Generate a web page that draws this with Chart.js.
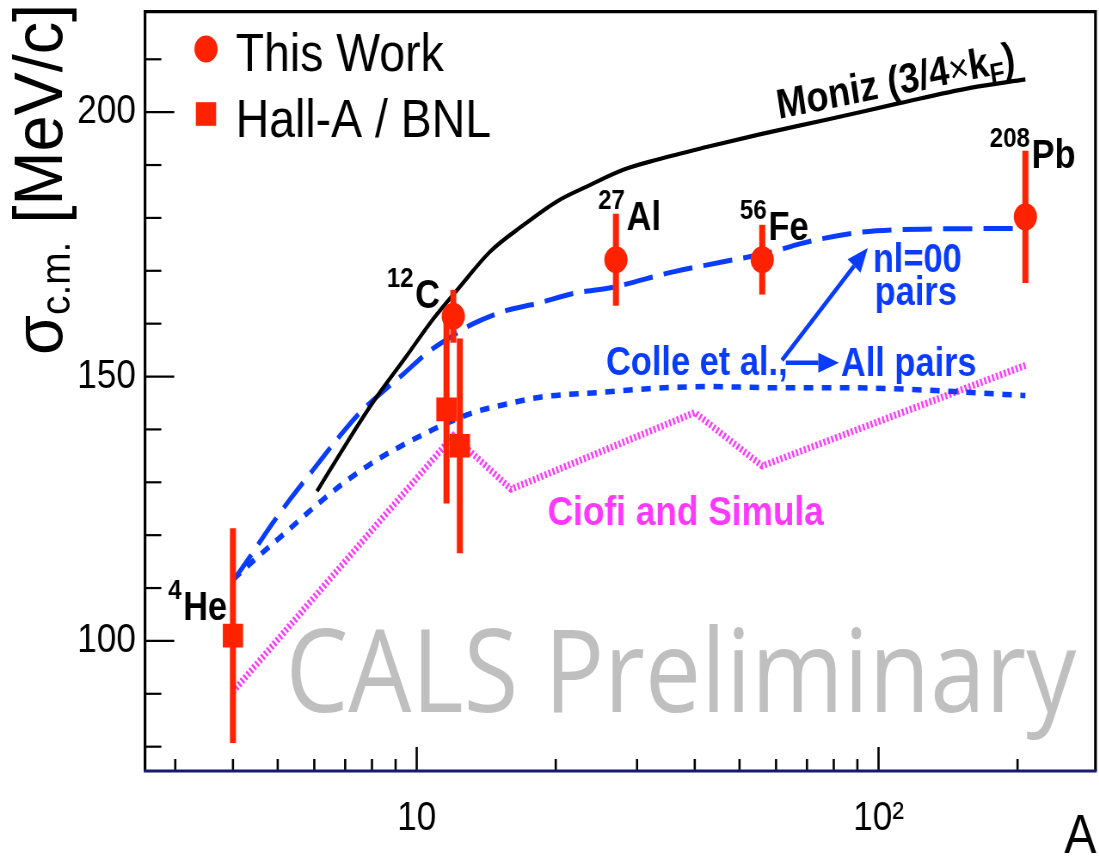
<!DOCTYPE html>
<html>
<head>
<meta charset="utf-8">
<script src="https://cdn.jsdelivr.net/npm/chart.js@4.4.1/dist/chart.umd.min.js"></script>
<style>
  html, body { margin: 0; padding: 0; background: #fff; overflow: hidden; }
  #wrap { width: 1099px; height: 858px; overflow: hidden; position: relative; }
  /* the figure is drawn on a wider canvas and squeezed horizontally */
  #c { display: block; transform: scaleX(0.86); transform-origin: 0 0; }
</style>
</head>
<body>
<div id="wrap"><canvas id="c" width="1278" height="858"></canvas></div>
<script>
// ---- axes ----
const xTicks = [3, 4, 5, 6, 7, 8, 9, 10, 20, 30, 40, 50, 60, 70, 80, 90, 100, 200];
const xMajor = [10, 100];
const yTicks = [80, 90, 100, 110, 120, 130, 140, 150, 160, 170, 180, 190, 200, 210];
const yLabelled = [100, 150, 200];

// ---- measurements: sigma_cm [MeV/c] vs mass number A ----
const thisWorkA = [12, 27, 56, 208];
const thisWorkSigma = [161.4, 172.1, 172.1, 180.2];
const thisWorkErr = [5.0, 8.7, 6.6, 12.5];

const hallA_A = [4, 11.6, 12.4];
const hallA_Sigma = [101.0, 143.8, 136.9];
const hallA_Err = [20.3, 17.8, 20.3];

// ---- calculations ----
const monizA = [6.08, 7.06, 8.05, 9.51, 10.86, 12.3, 14.41, 17.0, 20.1, 23.7, 28.0, 33.1, 42.4, 55.3, 78.4, 111, 158, 208];
const monizSigma = [128.3, 137.5, 145.2, 153.9, 160.9, 166.6, 173.6, 178.6, 183.1, 186.2, 189.1, 191.0, 193.4, 195.8, 198.7, 201.7, 204.6, 206.2];

const colleNlA = [4, 4.36, 4.85, 5.32, 5.97, 6.82, 7.54, 9.36, 10.69, 11.8, 13.26, 15.66, 18.2, 21.8, 26.6, 35.9, 46.1, 59.1, 67.5, 91.5, 130.6, 208];
const colleNlSigma = [111.3, 116.0, 122.0, 126.8, 132.4, 138.8, 143.2, 150.5, 154.9, 157.4, 160.0, 162.5, 163.8, 165.7, 166.9, 169.8, 171.7, 173.6, 175.1, 177.3, 177.9, 178.0];

const colleAllA = [4, 4.54, 5.23, 6.03, 6.88, 7.92, 9.13, 10.69, 11.51, 13.26, 15.66, 18.49, 24.9, 33.1, 42.4, 59.0, 82.5, 107.4, 208];
const colleAllSigma = [111.6, 116.0, 120.7, 125.5, 129.6, 133.4, 136.6, 139.7, 141.0, 143.2, 144.8, 146.1, 147.0, 147.8, 148.1, 147.9, 147.9, 147.7, 146.4];

const ciofiA = [4, 12, 16, 40, 56, 208];
const ciofiSigma = [90.4, 138.8, 128.7, 143.2, 133.1, 152.1];

// ---- nucleus labels ----
const nucleusMass = ['12', '27', '56', '208', '4'];
const nucleusSymbol = ['C', 'Al', 'Fe', 'Pb', 'He'];

// where the text annotations sit, in (A, sigma) coordinates
const nucleusAnchor = [[8.61, 163.0], [24.7, 177.7], [50.1, 175.8], [174.1, 189.5], [2.894, 104.0]];
const notes = {
  moniz: [60.8, 198.7],
  nl00: [97.2, 169.8],
  pairs: [98.1, 163.6],
  colle: [25.7, 150.3],
  allPairs: [82.9, 150.1],
  ciofi: [19.2, 121.9],
  arrowUp: [[61.8, 153.1], [94.8, 174.3]],
  arrowRight: [[63.0, 152.6], [82.1, 152.6]]
};

// plot frame on the (unsqueezed) canvas
const AREA = { left: 168.6, top: 11.7, right: 1273.8, bottom: 771 };

const RED = '#ff2200';
const BLUE = '#0a3cff';
const MAGENTA = '#ff38ff';
const FONT = '"Liberation Sans", Arial, Helvetica, sans-serif';

const pts = (xs, ys) => xs.map((x, i) => ({ x: x, y: ys[i] }));

function px(chart, a, s) {
  return [chart.scales.x.getPixelForValue(a), chart.scales.y.getPixelForValue(s)];
}

function richText(ctx, x, y, parts) {
  let cx = x;
  for (const p of parts) {
    ctx.font = p.font;
    ctx.fillText(p.t, cx, y + (p.dy || 0));
    cx += ctx.measureText(p.t).width + (p.gap || 0);
  }
}

function arrow(ctx, x0, y0, x1, y1, color) {
  const ang = Math.atan2(y1 - y0, x1 - x0);
  const head = 24, half = 10;
  const bx = x1 - head * Math.cos(ang), by = y1 - head * Math.sin(ang);
  ctx.strokeStyle = color;
  ctx.lineWidth = 4.5;
  ctx.beginPath();
  ctx.moveTo(x0, y0);
  ctx.lineTo(bx, by);
  ctx.stroke();
  ctx.fillStyle = color;
  ctx.beginPath();
  ctx.moveTo(x1, y1);
  ctx.lineTo(bx + half * Math.sin(ang), by - half * Math.cos(ang));
  ctx.lineTo(bx - half * Math.sin(ang), by + half * Math.cos(ang));
  ctx.closePath();
  ctx.fill();
}

// frame and inward tick marks
const framePlugin = {
  id: 'frame',
  beforeDatasetsDraw(chart) {
    const { ctx, chartArea: a, scales } = chart;
    ctx.save();
    ctx.strokeStyle = '#000';
    ctx.lineWidth = 2.2;
    for (const v of yTicks) {
      const y = scales.y.getPixelForValue(v);
      const len = yLabelled.includes(v) ? 34 : 19;
      ctx.beginPath(); ctx.moveTo(a.left, y); ctx.lineTo(a.left + len, y); ctx.stroke();
    }
    ctx.lineWidth = 2.6;
    for (const v of xTicks) {
      const x = scales.x.getPixelForValue(v);
      const len = xMajor.includes(v) ? 24 : 12;
      ctx.beginPath(); ctx.moveTo(x, a.bottom); ctx.lineTo(x, a.bottom - len); ctx.stroke();
    }
    ctx.lineWidth = 3.2;
    ctx.beginPath();
    ctx.moveTo(a.left, a.bottom); ctx.lineTo(a.left, a.top);
    ctx.lineTo(a.right, a.top); ctx.lineTo(a.right, a.bottom);
    ctx.stroke();
    ctx.strokeStyle = '#141c6e';
    ctx.beginPath(); ctx.moveTo(a.left - 1.5, a.bottom); ctx.lineTo(a.right + 1.5, a.bottom); ctx.stroke();
    ctx.restore();
  }
};

// vertical error bars under the markers
const errorBarPlugin = {
  id: 'errorBars',
  beforeDatasetDraw(chart, args) {
    const ds = chart.data.datasets[args.index];
    if (!ds.errors) return;
    const { ctx } = chart;
    ctx.save();
    ctx.strokeStyle = ds.backgroundColor;
    ctx.lineWidth = 7;
    ds.data.forEach((p, i) => {
      const [x, y0] = px(chart, p.x, p.y - ds.errors[i]);
      const [, y1] = px(chart, p.x, p.y + ds.errors[i]);
      ctx.beginPath(); ctx.moveTo(x, y0); ctx.lineTo(x, y1); ctx.stroke();
    });
    ctx.restore();
  }
};

// legend, axis titles and annotations
const textPlugin = {
  id: 'texts',
  afterDraw(chart) {
    const { ctx, chartArea: a } = chart;
    ctx.save();
    ctx.textAlign = 'left';
    ctx.textBaseline = 'alphabetic';

    // legend
    ctx.fillStyle = RED;
    ctx.beginPath(); ctx.arc(239.5, 49, 13.5, 0, Math.PI * 2); ctx.fill();
    ctx.fillRect(239.5 - 11.8, 114 - 11.8, 23.6, 23.6);
    ctx.fillStyle = '#000';
    ctx.font = '54px ' + FONT;
    ctx.fillText('This Work', 274, 71);
    ctx.fillText('Hall-A / BNL', 274, 137);

    // y title
    ctx.save();
    ctx.translate(72, 355);
    ctx.rotate(-Math.PI / 2);
    ctx.scale(0.81, 1);
    richText(ctx, 0, 0, [
      { t: 'σ', font: '80px ' + FONT },
      { t: 'c.m.', font: '48px ' + FONT, dy: 9 },
      { t: ' [MeV/c]', font: '80px ' + FONT }
    ]);
    ctx.restore();

    // x title
    ctx.font = '56px ' + FONT;
    ctx.textAlign = 'right';
    ctx.fillText('A', a.right + 1, 853);
    ctx.textAlign = 'left';

    // nuclei
    ctx.fillStyle = '#000';
    nucleusSymbol.forEach((sym, i) => {
      const [x, y] = px(chart, nucleusAnchor[i][0], nucleusAnchor[i][1]);
      richText(ctx, x, y, [
        { t: nucleusMass[i], font: 'bold 28px ' + FONT, dy: -21, gap: 2 },
        { t: sym, font: 'bold 40px ' + FONT }
      ]);
    });

    // Moniz curve label
    ctx.save();
    const [mx, my] = px(chart, notes.moniz[0], notes.moniz[1]);
    ctx.translate(mx, my);
    ctx.rotate(-10 * Math.PI / 180);
    richText(ctx, 0, 0, [
      { t: 'Moniz (3/4', font: 'bold 42px ' + FONT },
      { t: '×', font: '40px ' + FONT },
      { t: 'k', font: 'bold 42px ' + FONT },
      { t: 'F', font: 'bold 28px ' + FONT, dy: 8 },
      { t: ')', font: 'bold 42px ' + FONT }
    ]);
    ctx.restore();

    // Colle et al. labels and arrows
    ctx.fillStyle = BLUE;
    ctx.font = 'bold 40px ' + FONT;
    let p = px(chart, ...notes.nl00); ctx.fillText('nl=00', p[0], p[1]);
    p = px(chart, ...notes.pairs); ctx.fillText('pairs', p[0], p[1]);
    p = px(chart, ...notes.colle); ctx.fillText('Colle et al.,', p[0], p[1]);
    p = px(chart, ...notes.allPairs); ctx.fillText('All pairs', p[0], p[1]);
    let q0 = px(chart, ...notes.arrowUp[0]), q1 = px(chart, ...notes.arrowUp[1]);
    arrow(ctx, q0[0], q0[1], q1[0], q1[1], BLUE);
    q0 = px(chart, ...notes.arrowRight[0]); q1 = px(chart, ...notes.arrowRight[1]);
    arrow(ctx, q0[0], q0[1], q1[0], q1[1], BLUE);

    // Ciofi and Simula label
    ctx.fillStyle = MAGENTA;
    ctx.font = 'bold 41px ' + FONT;
    p = px(chart, ...notes.ciofi); ctx.fillText('Ciofi and Simula', p[0], p[1]);

    // watermark
    ctx.fillStyle = '#bfbfbf';
    ctx.font = '116px "Open Sans", "Noto Sans", sans-serif';
    ctx.fillText('CALS Preliminary', 332, 712);
    ctx.restore();
  }
};

new Chart(document.getElementById('c'), {
  type: 'scatter',
  data: {
    datasets: [
      {
        label: 'This Work', data: pts(thisWorkA, thisWorkSigma), errors: thisWorkErr,
        backgroundColor: RED, borderColor: RED, pointStyle: 'circle', pointRadius: 13.5,
        pointBorderWidth: 0, order: 0
      },
      {
        label: 'Hall-A / BNL', data: pts(hallA_A, hallA_Sigma), errors: hallA_Err,
        backgroundColor: RED, borderColor: RED, pointStyle: 'rect', pointRadius: 16.7,
        pointBorderWidth: 0, order: 1
      },
      {
        label: 'Moniz (3/4×kF)', data: pts(monizA, monizSigma), showLine: true,
        borderColor: '#000', borderWidth: 4.2, pointRadius: 0,
        cubicInterpolationMode: 'monotone', order: 2
      },
      {
        label: 'Colle et al., nl=00 pairs', data: pts(colleNlA, colleNlSigma), showLine: true,
        borderColor: BLUE, borderWidth: 5, borderDash: [34, 13], pointRadius: 0,
        cubicInterpolationMode: 'monotone', order: 3
      },
      {
        label: 'Colle et al., All pairs', data: pts(colleAllA, colleAllSigma), showLine: true,
        borderColor: BLUE, borderWidth: 5.5, borderDash: [11, 10], pointRadius: 0,
        cubicInterpolationMode: 'monotone', order: 4
      },
      {
        label: 'Ciofi and Simula', data: pts(ciofiA, ciofiSigma), showLine: true,
        borderColor: MAGENTA, borderWidth: 7, borderDash: [2.4, 2.4], pointRadius: 0,
        tension: 0, order: 5
      }
    ]
  },
  options: {
    responsive: false,
    animation: false,
    devicePixelRatio: 1,
    layout: {
      autoPadding: false,
      padding: { left: 0, top: AREA.top, right: 1278 - AREA.right, bottom: 0 }
    },
    plugins: { legend: { display: false }, tooltip: { enabled: false } },
    scales: {
      x: {
        type: 'logarithmic', min: 2.58, max: 295,
        grid: { display: false, drawTicks: false }, border: { display: false },
        afterBuildTicks: s => { s.ticks = xTicks.map(v => ({ value: v })); },
        afterFit: s => { s.height = 858 - AREA.bottom; s.paddingLeft = 0; s.paddingRight = 0; },
        ticks: {
          autoSkip: false, maxRotation: 0, padding: 23, color: '#000',
          font: { family: FONT, size: 41 },
          callback: v => (v === 10 ? '10' : v === 100 ? '10²' : '')
        }
      },
      y: {
        type: 'linear', min: 75.4, max: 219,
        grid: { display: false, drawTicks: false }, border: { display: false },
        afterBuildTicks: s => { s.ticks = yTicks.map(v => ({ value: v })); },
        afterFit: s => { s.width = AREA.left; s.paddingTop = 0; s.paddingBottom = 0; },
        ticks: {
          autoSkip: false, padding: 10.5, color: '#000',
          font: { family: FONT, size: 41 },
          callback: v => (yLabelled.includes(v) ? String(v) : '')
        }
      }
    }
  },
  plugins: [framePlugin, errorBarPlugin, textPlugin]
});
</script>
</body>
</html>
